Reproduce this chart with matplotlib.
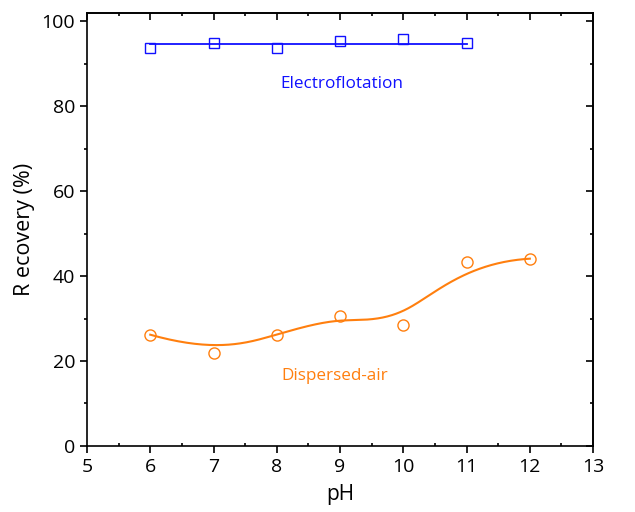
import numpy as np
import matplotlib
matplotlib.use("Agg")
import matplotlib.pyplot as plt
from matplotlib.ticker import MultipleLocator

plt.rcParams['font.family'] = ['Open Sans', 'DejaVu Sans']

# data
ph_ef = [6, 7, 8, 9, 10, 11]
rec_ef = [93.6, 95.0, 93.6, 95.4, 95.8, 95.0]
ph_da = [6, 7, 8, 9, 10, 11, 12]
rec_da = [26.2, 22.0, 26.2, 30.6, 28.4, 43.2, 44.1]

BLUE = "#1010ff"
ORANGE = "#ff7f0e"


def bspline(px, py, n=300):
    # clamped uniform cubic B-spline, data points used as control points
    px = np.asarray(px, float)
    py = np.asarray(py, float)
    m = len(px)
    k = 3
    knots = np.concatenate([np.zeros(k), np.arange(m - k + 1), np.full(k, m - k)])
    t = np.linspace(0, m - k, n)
    t[-1] -= 1e-9

    def basis(i, d, tt):
        if d == 0:
            return ((knots[i] <= tt) & (tt < knots[i + 1])).astype(float)
        a = 0.0
        b = 0.0
        if knots[i + d] != knots[i]:
            a = (tt - knots[i]) / (knots[i + d] - knots[i]) * basis(i, d - 1, tt)
        if knots[i + d + 1] != knots[i + 1]:
            b = (knots[i + d + 1] - tt) / (knots[i + d + 1] - knots[i + 1]) * basis(i + 1, d - 1, tt)
        return a + b

    B = np.array([basis(i, k, t) for i in range(m)])
    return px @ B, py @ B


fig = plt.figure(figsize=(6.35, 5.12), dpi=100)
ax = fig.add_axes([0.137, 0.129, 0.797, 0.846])

# electroflotation: flat line at the mean
ax.plot([ph_ef[0], ph_ef[-1]], [np.mean(rec_ef)] * 2, color=BLUE, lw=1.3)
ax.plot(ph_ef, rec_ef, 's', mfc='none', mec=BLUE, ms=7, mew=1.0)

# dispersed-air: B-spline
sx, sy = bspline(ph_da, rec_da)
ax.plot(sx, sy, color=ORANGE, lw=1.5)
ax.plot(ph_da, rec_da, 'o', mfc='none', mec=ORANGE, ms=8, mew=1.0)

ax.text(9.03, 85.2, "Electroflotation", color=BLUE, fontsize=12.3, ha='center', va='center')
ax.text(8.92, 16.5, "Dispersed-air", color=ORANGE, fontsize=12.3, ha='center', va='center')

ax.set_xlim(5, 13)
ax.set_ylim(0, 102)
ax.xaxis.set_major_locator(MultipleLocator(1))
ax.xaxis.set_minor_locator(MultipleLocator(0.5))
ax.yaxis.set_major_locator(MultipleLocator(20))
ax.yaxis.set_minor_locator(MultipleLocator(10))

ax.set_xlabel("pH", fontsize=15, labelpad=6)
ax.set_ylabel("R ecovery (%)", fontsize=15.5, labelpad=5)

for s in ax.spines.values():
    s.set_linewidth(1.2)

ax.tick_params(which='major', direction='out', length=5, width=1.2, labelsize=14)
ax.tick_params(which='minor', length=2.5, width=1.2)
ax.tick_params(axis='x', which='minor', direction='in')
ax.tick_params(axis='y', which='minor', direction='out')

# mirrored inward ticks on top and right
axt = ax.secondary_xaxis('top')
axt.xaxis.set_major_locator(MultipleLocator(1))
axt.xaxis.set_minor_locator(MultipleLocator(0.5))
axt.tick_params(which='major', direction='in', length=5, width=1.2, labeltop=False)
axt.tick_params(which='minor', direction='in', length=2.5, width=1.2)
axt.spines['top'].set_linewidth(1.2)

axr = ax.secondary_yaxis('right')
axr.yaxis.set_major_locator(MultipleLocator(20))
axr.yaxis.set_minor_locator(MultipleLocator(10))
axr.tick_params(which='major', direction='in', length=5, width=1.2, labelright=False)
axr.tick_params(which='minor', direction='in', length=2.5, width=1.2)
axr.spines['right'].set_linewidth(1.2)

fig.savefig("out.png", dpi=100)
